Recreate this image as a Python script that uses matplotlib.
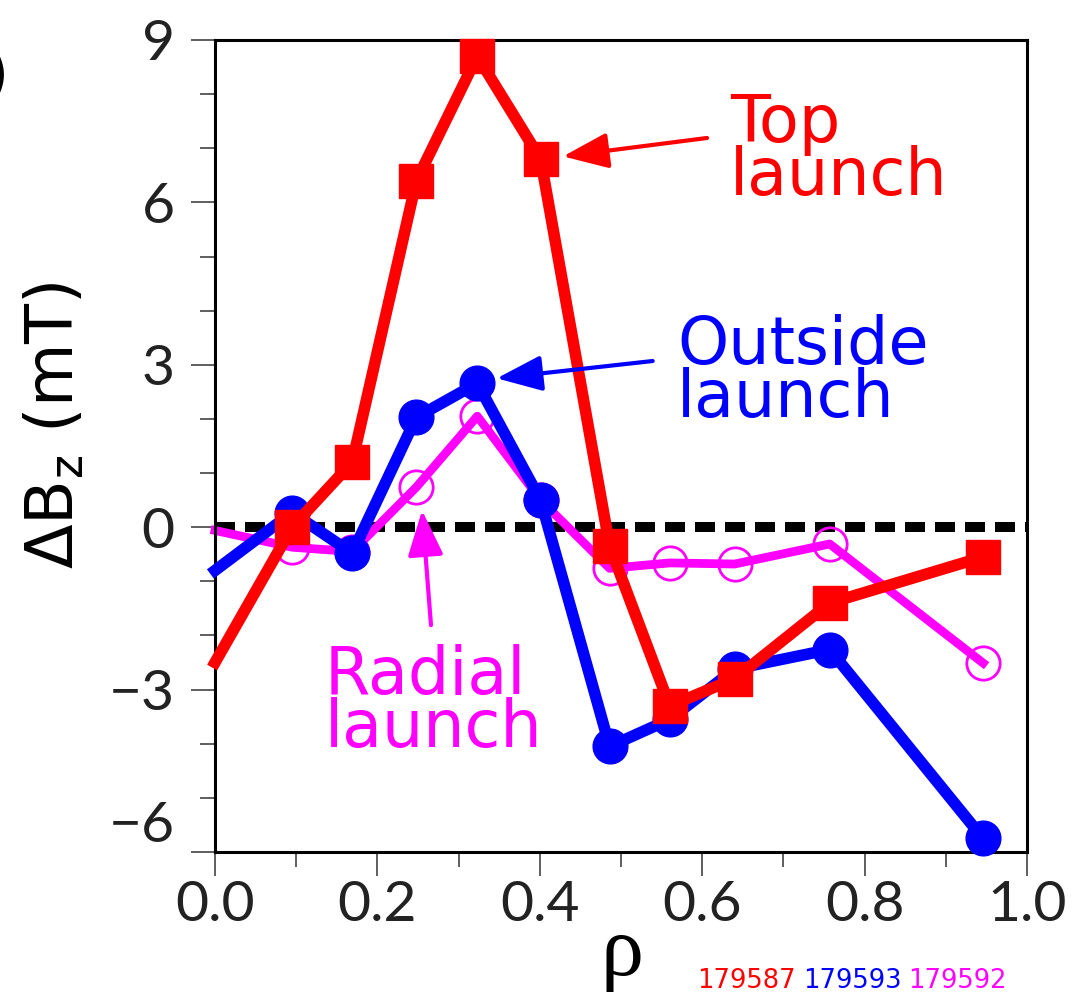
import matplotlib
matplotlib.use("Agg")
import matplotlib.pyplot as plt
from matplotlib.ticker import MultipleLocator

# radial positions of the measurement channels (first entry is the axis value)
rho = [0.0, 0.095, 0.169, 0.248, 0.323, 0.401, 0.486, 0.560, 0.640, 0.757, 0.946]

# change in vertical field, mT
dbz_top = [-2.5, 0.0, 1.2, 6.4, 8.7, 6.8, -0.35, -3.3, -2.8, -1.4, -0.55]
dbz_outside = [-0.8, 0.27, -0.48, 2.03, 2.66, 0.5, -4.05, -3.55, -2.62, -2.26, -5.75]
dbz_radial = [-0.06, -0.37, -0.45, 0.74, 2.05, 0.5, -0.76, -0.66, -0.68, -0.31, -2.51]

shots = ["179587", "179593", "179592"]
colors = ["#ff0000", "#0000ff", "#ff00ff"]

fig = plt.figure(figsize=(10.73, 9.92), dpi=100)
ax = fig.add_axes([215 / 1073, 1 - 852 / 992, 812 / 1073, 812 / 992])

ax.axhline(0, color="black", lw=7.2, dashes=(2, 1), zorder=1)

ax.plot(rho, dbz_radial, color=colors[2], lw=6.3, marker="o", ms=24,
        mfc="none", mec=colors[2], mew=2, markevery=slice(1, None), zorder=2)
ax.plot(rho, dbz_outside, color=colors[1], lw=8.3, marker="o", ms=25,
        markevery=slice(1, None), zorder=3)
ax.plot(rho, dbz_top, color=colors[0], lw=8.3, marker="s", ms=25,
        markevery=slice(1, None), zorder=4)
# markers may sit on the frame
for ln in ax.lines[1:]:
    ln.set_clip_on(False)

ax.set_xlim(0, 1.0)
ax.set_ylim(-6, 9)
ax.xaxis.set_minor_locator(MultipleLocator(0.1))
ax.yaxis.set_minor_locator(MultipleLocator(1))
ax.set_xticks([0, 0.2, 0.4, 0.6, 0.8, 1.0])
ax.set_xticklabels(["0.0", "0.2", "0.4", "0.6", "0.8", "1.0"])
ax.set_yticks([-6, -3, 0, 3, 6, 9])
ax.set_yticklabels(["\u22126", "\u22123", "0", "3", "6", "9"])
ax.tick_params(which="major", direction="out", length=17, width=1.1,
               color="#333333", labelsize=41, labelcolor="#222222")
ax.tick_params(which="minor", direction="out", length=11, width=1.1, color="#333333")
ax.tick_params(axis="x", pad=3)
ax.tick_params(axis="y", pad=12)
for lab in ax.get_xticklabels() + ax.get_yticklabels():
    lab.set_family(["Lato", "DejaVu Sans"])
ax.get_yticklabels()[0].set_va("bottom")
for sp in ax.spines.values():
    sp.set_linewidth(2.2)

# annotations with arrows
arrow = dict(arrowstyle="-|>,head_length=2.8,head_width=1.1", lw=3,
             shrinkA=0, shrinkB=0)
ax.annotate("", xy=(0.4286, 6.85), xytext=(0.606, 7.19),
            arrowprops=dict(arrow, color=colors[0]), zorder=5)
ax.annotate("", xy=(0.347, 2.75), xytext=(0.539, 3.07),
            arrowprops=dict(arrow, color=colors[1]), zorder=5)
ax.annotate("", xy=(0.255, 0.31), xytext=(0.266, -1.81),
            arrowprops=dict(arrow, color=colors[2]), zorder=5)

labels = [
    (0.634, 6.13, "Top\nlaunch", colors[0]),
    (0.569, 2.03, "Outside\nlaunch", colors[1]),
    (0.135, -4.06, "Radial\nlaunch", colors[2]),
]
for x, y, txt, c in labels:
    ax.text(x, y, txt, color=c, fontsize=47, ha="left", va="baseline",
            linespacing=0.78, zorder=6)

fig.text(55 / 1073, 1 - 425 / 992, "\u0394B$_\\mathregular{z}$ (mT)",
         rotation=90, ha="center", va="center", fontsize=47)
fig.text(622 / 1073, 17 / 992, "\u03c1", family="Liberation Serif",
         fontsize=62, ha="center", va="baseline")
fig.text(10 / 1073, 1 - 77 / 992, "(b)", fontsize=45, ha="right", va="center")

# shot numbers
x0 = 697 / 1073
for s, c in zip(shots, colors):
    t = fig.text(x0, 4 / 992, s, color=c, fontsize=18.5, ha="left", va="baseline")
    fig.canvas.draw()
    bb = t.get_window_extent()
    x0 = (bb.x1 + 7) / 1073

fig.savefig("out.png", dpi=100)
